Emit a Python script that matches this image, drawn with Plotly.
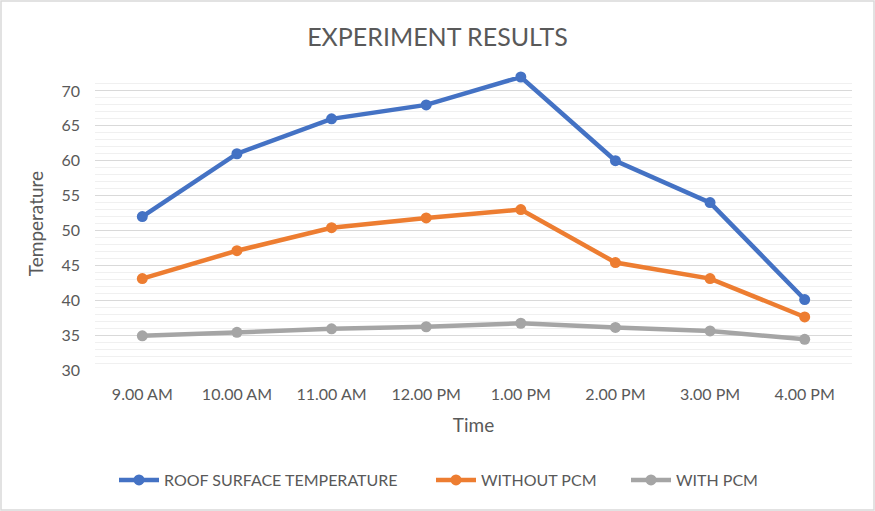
import plotly.graph_objects as go

times = ["9.00 AM", "10.00 AM", "11.00 AM", "12.00 PM", "1.00 PM", "2.00 PM", "3.00 PM", "4.00 PM"]
roof_surface = [52, 61, 66, 68, 72, 60, 54, 40.1]
without_pcm = [43.1, 47.1, 50.4, 51.8, 53, 45.4, 43.1, 37.6]
with_pcm = [34.9, 35.4, 35.9, 36.2, 36.7, 36.1, 35.6, 34.4]

series = [
    ("ROOF SURFACE TEMPERATURE", roof_surface, "#4472C4", "legend", 120),
    ("WITHOUT PCM", without_pcm, "#ED7D31", "legend2", 437),
    ("WITH PCM", with_pcm, "#A5A5A5", "legend3", 632),
]

FONT = "Lato"
TXT = "#595959"

W, H = 875, 511
L, R, T, B = 95, 23, 77, 141
pw, ph = W - L - R, H - T - B

fig = go.Figure()
legends = {}
for name, vals, col, lg, lx in series:
    fig.add_trace(go.Scatter(
        x=times, y=vals, name=name, mode="lines+markers",
        line=dict(color=col, width=4.5),
        marker=dict(color=col, size=11),
        cliponaxis=False, legend=lg,
    ))
    legends[lg] = dict(orientation="h", x=(lx - 6 - L) / pw, xanchor="left",
                       y=(370 - 480) / ph, yanchor="middle",
                       font=dict(family=FONT, size=16, color=TXT),
                       itemwidth=40, bgcolor="rgba(0,0,0,0)")

fig.update_layout(
    width=W, height=H,
    margin=dict(l=L, r=R, t=T, b=B),
    paper_bgcolor="white", plot_bgcolor="white",
    font=dict(family=FONT, color=TXT, size=16),
    title=dict(text="EXPERIMENT RESULTS", x=0.5, xref="container",
               y=1 - 37 / H, yref="container", yanchor="middle", xanchor="center",
               font=dict(family=FONT, size=25, color=TXT)),
    showlegend=True,
    **legends,
    xaxis=dict(type="category", range=[-0.5, 7.5], showgrid=False,
               showline=False, zeroline=False, ticks="",
               ticklabelstandoff=13,
               tickfont=dict(family=FONT, size=16, color=TXT),
               title=dict(text="Time", standoff=16,
                          font=dict(family=FONT, size=19, color=TXT))),
    yaxis=dict(range=[30, 72], tick0=30, dtick=5, showgrid=True,
               gridcolor="#D9D9D9", gridwidth=1, zeroline=False,
               showline=False, ticks="", ticklabelstandoff=14,
               tickfont=dict(family=FONT, size=16, color=TXT),
               minor=dict(dtick=1, tick0=30, showgrid=True,
                          gridcolor="#F0F0F0", gridwidth=1),
               title=dict(text="Temperature", standoff=12,
                          font=dict(family=FONT, size=19, color=TXT))),
    shapes=[dict(type="rect", xref="paper", yref="paper",
                 x0=(-L + 1) / pw, x1=1 + (R - 1) / pw,
                 y0=(-B + 1) / ph, y1=1 + (T - 1) / ph,
                 line=dict(color="#D9D9D9", width=1.5), layer="below")],
)

fig.write_html("out.html", config={"displayModeBar": False},
               post_script="document.body.style.margin='0';document.body.style.padding='0';")
